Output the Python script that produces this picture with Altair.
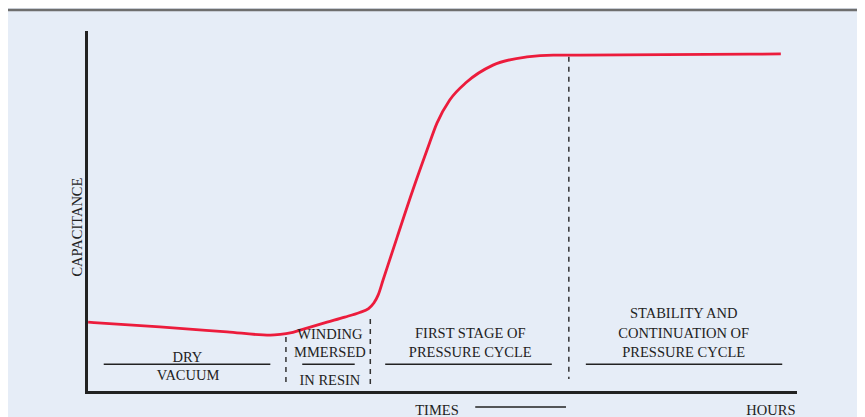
import altair as alt
import pandas as pd

# Capacitance curve (arbitrary units): time 0-100, capacitance 0-100
time = [0.3, 10.4, 19.9, 26.0, 27.4, 28.8, 30.2, 34.0, 36.5, 38.6, 39.8, 40.6,
        41.2, 41.9, 43.9, 46.1, 48.1, 49.5, 51.3, 53.7, 57.4, 62.2, 65.9, 69.7, 98.0]
capacitance = [19.4, 18.1, 16.7, 15.8, 16.0, 16.4, 17.2, 19.4, 20.8, 22.1, 23.1, 24.7,
               26.9, 31.1, 43.1, 56.1, 67.2, 74.7, 81.1, 86.1, 90.8, 93.1, 93.6, 93.6, 93.9]

# Phase boundaries (dashed)
phase_x = [28.2, 40.1, 68.1]
phase_top = [15.3, 20.3, 93.1]
phase_bottom = [1.7, 1.7, 3.6]

# Label underlines
under_x = [2.5, 30.5, 42.2, 70.5, 54.9]
under_x2 = [26.0, 37.9, 65.7, 98.2, 67.7]
under_y = [7.7, 7.7, 7.7, 7.7, -4.2]

# Text labels
label_text = ["DRY", "VACUUM", "WINDING", "MMERSED", "IN RESIN",
              "FIRST STAGE OF", "PRESSURE CYCLE",
              "STABILITY AND", "CONTINUATION OF", "PRESSURE CYCLE",
              "TIMES", "HOURS"]
label_x = [14.3, 14.4, 34.4, 34.4, 34.4, 54.2, 54.2, 84.3, 84.3, 84.3, 49.5, 96.6]
label_y = [8.4, 3.3, 14.7, 9.6, 1.9, 14.9, 9.6, 20.6, 15.0, 9.6, -6.4, -6.4]

y_title = "CAPACITANCE"
y_title_x = [-1.1]
y_title_y = [45.8]

FONT = "Liberation Serif"
INK = "#222222"

xs = alt.Scale(domain=[0, 100], nice=False, zero=False)
ys = alt.Scale(domain=[0, 100], nice=False, zero=False)

curve_df = pd.DataFrame({"t": time, "c": capacitance})
phase_df = pd.DataFrame({"x": phase_x, "y": phase_top, "y2": phase_bottom})
under_df = pd.DataFrame({"x": under_x, "x2": under_x2, "y": under_y})
label_df = pd.DataFrame({"text": label_text, "x": label_x, "y": label_y})
title_df = pd.DataFrame({"text": [y_title], "x": y_title_x, "y": y_title_y})

axis_style = dict(domain=True, domainColor="#222222", domainWidth=3, domainCap="square",
                  ticks=False, labels=False, grid=False, title=None)

curve = alt.Chart(curve_df).mark_line(
    color="#ec1c3c", strokeWidth=2.8, interpolate="monotone"
).encode(
    x=alt.X("t:Q", scale=xs, axis=alt.Axis(**axis_style)),
    y=alt.Y("c:Q", scale=ys, axis=alt.Axis(**axis_style)),
)

phases = alt.Chart(phase_df).mark_rule(
    color="#333333", strokeWidth=1.5, strokeDash=[5, 5]
).encode(
    x=alt.X("x:Q", scale=xs),
    y=alt.Y("y:Q", scale=ys),
    y2="y2:Q",
)

unders = alt.Chart(under_df).mark_rule(color="#222222", strokeWidth=1.5).encode(
    x=alt.X("x:Q", scale=xs),
    x2="x2:Q",
    y=alt.Y("y:Q", scale=ys),
)

labels = alt.Chart(label_df).mark_text(
    font=FONT, fontSize=14.5, color=INK, align="center", baseline="alphabetic"
).encode(
    x=alt.X("x:Q", scale=xs),
    y=alt.Y("y:Q", scale=ys),
    text="text:N",
)

ytitle = alt.Chart(title_df).mark_text(
    font=FONT, fontSize=14.5, color=INK, align="center", baseline="middle", angle=270
).encode(
    x=alt.X("x:Q", scale=xs),
    y=alt.Y("y:Q", scale=ys),
    text="text:N",
)

border = alt.Chart(pd.DataFrame({"a": [0]})).mark_rule(
    color="#6e6e6e", strokeWidth=2.5
).encode(x=alt.value(-80), x2=alt.value(790), y=alt.value(-22))

chart = alt.layer(border, phases, unders, curve, labels, ytitle).properties(
    width=709,
    height=360,
    padding={"left": 78, "top": 24, "right": 62, "bottom": 25},
    autosize=alt.AutoSizeParams(type="none"),
    background="#e6edf7",
).configure_view(stroke=None)

chart.save("out.html", embed_options={"renderer": "svg", "actions": False})
